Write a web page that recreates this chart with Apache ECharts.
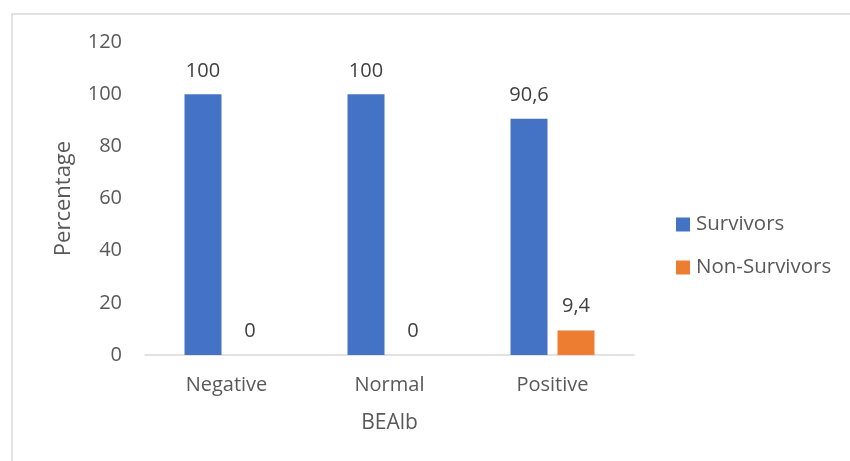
<!DOCTYPE html>
<html>
<head>
<meta charset="utf-8">
<script src="https://cdn.jsdelivr.net/npm/echarts@6/dist/echarts.min.js"></script>
<style>html,body{margin:0;padding:0;background:#fff}#c{width:850px;height:461px}</style>
</head>
<body>
<div id="c"></div>
<script>
const categories = ['Negative', 'Normal', 'Positive'];
const survivors = [100, 100, 90.6];
const nonSurvivors = [0, 0, 9.4];
const yTicks = [0, 20, 40, 60, 80, 100, 120];

const font = '"Open Sans", "Noto Sans", sans-serif';
const chart = echarts.init(document.getElementById('c'), null, {renderer: 'canvas'});
const fmt = p => String(p.value).replace('.', ',');
chart.setOption({
  animation: false,
  textStyle: {fontFamily: font},
  graphic: [{
    type: 'rect', shape: {x: 12, y: 14, width: 900, height: 500},
    style: {fill: 'none', stroke: '#d9d9d9', lineWidth: 1.5}, silent: true, z: -1
  }],
  grid: {left: 145, right: 216, top: 42, bottom: 106, containLabel: false},
  legend: {
    orient: 'vertical', left: 671, top: 209, itemGap: 22,
    itemWidth: 14, itemHeight: 14, icon: 'rect', itemStyle: {borderWidth: 0},
    textStyle: {fontFamily: font, fontSize: 20.5, color: '#595959', padding: [0, 0, 0, 1]},
    data: ['Survivors', 'Non-Survivors']
  },
  xAxis: {
    type: 'category', data: categories,
    name: 'BEAlb', nameLocation: 'middle', nameGap: 58,
    nameTextStyle: {fontFamily: font, fontSize: 21, color: '#595959'},
    axisLine: {lineStyle: {color: '#d9d9d9', width: 1.5}},
    axisTick: {show: false},
    axisLabel: {fontFamily: font, fontSize: 20, color: '#595959', margin: 20}
  },
  yAxis: {
    type: 'value', min: 0, max: 120, interval: 20,
    name: 'Percentage', nameLocation: 'middle', nameGap: 70, nameRotate: 90,
    nameTextStyle: {fontFamily: font, fontSize: 22, color: '#595959'},
    axisLine: {show: false}, axisTick: {show: false}, splitLine: {show: false},
    axisLabel: {fontFamily: font, fontSize: 20, color: '#595959', margin: 23,
      formatter: v => yTicks.includes(v) ? String(v) : ''}
  },
  series: [
    {name: 'Survivors', type: 'bar', data: survivors, barWidth: 37, barGap: '27%',
     itemStyle: {color: '#4472c4'},
     label: {show: true, position: 'top', distance: 13, formatter: fmt,
       fontFamily: font, fontSize: 20, color: '#404040'}},
    {name: 'Non-Survivors', type: 'bar', data: nonSurvivors, barWidth: 37,
     itemStyle: {color: '#ed7d31'},
     label: {show: true, position: 'top', distance: 14, formatter: fmt,
       fontFamily: font, fontSize: 20, color: '#404040'}}
  ]
});
</script>
</body>
</html>
